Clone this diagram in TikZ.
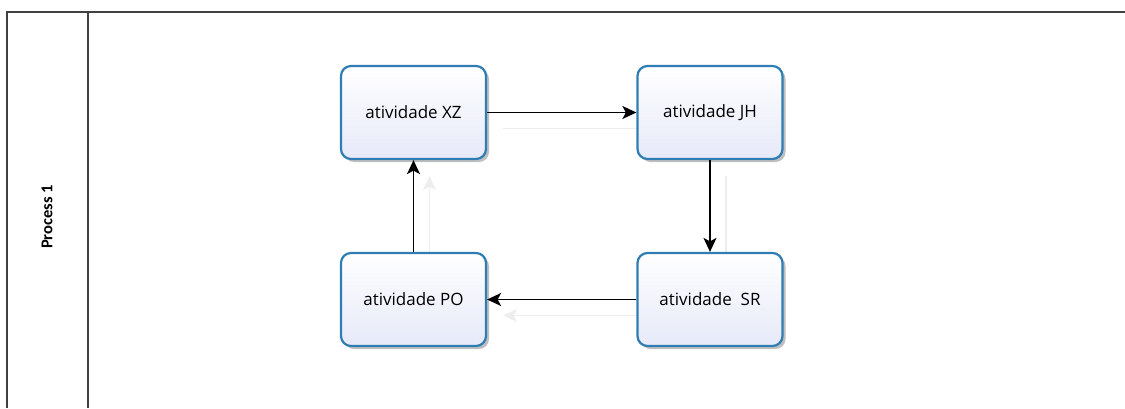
\documentclass[tikz,border=0pt]{standalone}
\usepackage{fontspec}
\setmainfont{Open Sans}
\newfontfamily\lanefont{Carlito}
\usetikzlibrary{arrows.meta,shadows,backgrounds}
\definecolor{boxblue}{HTML}{2F7DB3}
\definecolor{boxfill}{HTML}{E6E9F8}
\tikzset{
  actbox/.style={draw=boxblue, line width=2.2pt, rounded corners=10pt,
    minimum width=145pt, minimum height=93pt, inner sep=0pt,
    top color=white, bottom color=boxfill,
    drop shadow={shadow xshift=3pt, shadow yshift=-3pt, opacity=0.25, fill=black},
    font=\fontsize{17}{20}\selectfont},
  flow/.style={line width=1.8pt, draw=black, -{Stealth[length=14pt,width=13pt,inset=3.5pt]}},
  ghost/.style={line width=1.4pt, draw=black!7, fill=black!7, -{Stealth[length=14pt,width=13pt,inset=3.5pt]}},
  lane/.style={line width=1.8pt, draw=black!75}
}
\begin{document}
\begin{tikzpicture}[x=1pt,y=-1pt]
\useasboundingbox (0,0) rectangle (1125,408);
% lane
\coordinate (tl) at (7,12);
\coordinate (tr) at (1125,12);
\coordinate (bl) at (7,408);
\coordinate (dt) at (88,12);
\coordinate (db) at (88,408);
\draw[lane] (bl) -- (tl) -- (tr);
\draw[lane] (dt) -- (db);
\node[rotate=90, font=\lanefont\bfseries\fontsize{16.5}{20}\selectfont] (lbl) at (47,217) {Process 1};
% activities
\node[actbox] (xz) at (413.5,112.5) {atividade XZ};
\node[actbox] (jh) at (710,112.5) {atividade JH};
\node[actbox] (po) at (413.5,299.5) {atividade PO};
\node[actbox] (sr) at (710,299.5) {atividade\ \ SR};
% ghost connectors (faint shadows behind the boxes)
\begin{pgfonlayer}{background}
  \draw[ghost] ([shift={(16,16)}]xz.east) -- ([shift={(16,16)}]jh.west);
  \draw[ghost] ([shift={(16,16)}]jh.south) -- ([shift={(16,16)}]sr.north);
  \draw[ghost] ([shift={(16,16)}]sr.west) -- ([shift={(16,16)}]po.east);
  \draw[ghost] ([shift={(16,16)}]po.north) -- ([shift={(16,16)}]xz.south);
\end{pgfonlayer}
% connectors
\draw[flow] (xz) -- (jh);
\draw[flow] (jh) -- (sr);
\draw[flow] (sr) -- (po);
\draw[flow] (po) -- (xz);
\end{tikzpicture}
\end{document}
